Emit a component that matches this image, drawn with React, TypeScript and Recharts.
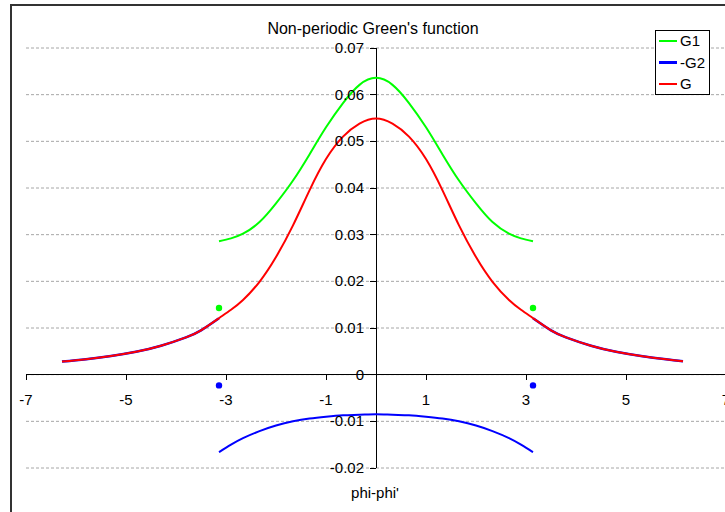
import React from "react";
import {
  ComposedChart,
  Line,
  Scatter,
  XAxis,
  YAxis,
  CartesianGrid,
  ReferenceLine,
} from "recharts";

// ---- data ----
const innerX = [-3.14, -2.9, -2.66, -2.33, -2.0, -1.66, -1.33, -1.0, -0.66, -0.33, 0, 0.33, 0.66, 1.0, 1.33, 1.66, 2.0, 2.33, 2.66, 2.9, 3.14];
const g1Inner = [0.0286, 0.0292, 0.0302, 0.0327, 0.0367, 0.0416, 0.0472, 0.053, 0.0582, 0.0621, 0.0636, 0.0621, 0.0582, 0.053, 0.0472, 0.0416, 0.0367, 0.0327, 0.0302, 0.0292, 0.0286];
const gInner = [0.0121, 0.0139, 0.016, 0.0199, 0.0252, 0.032, 0.0395, 0.0462, 0.051, 0.0538, 0.0549, 0.0538, 0.051, 0.0462, 0.0395, 0.032, 0.0252, 0.0199, 0.016, 0.0139, 0.0121];
const negG2Inner = [-0.0166, -0.015, -0.0136, -0.0121, -0.0109, -0.01, -0.0094, -0.009, -0.0087, -0.0086, -0.0085, -0.0086, -0.0087, -0.009, -0.0094, -0.01, -0.0109, -0.0121, -0.0136, -0.015, -0.0166];

const outerLeftX = [-6.28, -5.8, -5.3, -4.8, -4.3, -3.8, -3.5, -3.14];
const outerLeftY = [0.0028, 0.0033, 0.004, 0.0049, 0.0062, 0.008, 0.0095, 0.0121];
const outerRightX = [3.14, 3.5, 3.8, 4.3, 4.8, 5.3, 5.8, 6.14];
const outerRightY = [0.0121, 0.0095, 0.008, 0.0062, 0.0049, 0.004, 0.0033, 0.0029];

const jumpX = [-3.14, 3.14];
const g1Jump = [0.0143, 0.0143];
const negG2Jump = [-0.0023, -0.0023];

const xTicks = [-7, -5, -3, -1, 1, 3, 5, 7];
const yTicks = [-0.02, -0.01, 0, 0.01, 0.02, 0.03, 0.04, 0.05, 0.06, 0.07];
const seriesNames = ["G1", "-G2", "G"];
const seriesColors = ["#00ff00", "#0000ff", "#ff0000"];
const title = "Non-periodic Green's function";
const xLabel = "phi-phi'";

const zip = (xs: number[], ys: number[]) => xs.map((x, i) => ({ x, y: ys[i] }));

const g1Data = zip(innerX, g1Inner);
const negG2InnerData = zip(innerX, negG2Inner);
const negG2LeftData = zip(outerLeftX, outerLeftY);
const negG2RightData = zip(outerRightX, outerRightY);
const gData = [
  ...zip(outerLeftX.slice(0, -1), outerLeftY.slice(0, -1)),
  ...zip(innerX, gInner),
  ...zip(outerRightX.slice(1), outerRightY.slice(1)),
];
const g1JumpData = zip(jumpX, g1Jump);
const negG2JumpData = zip(jumpX, negG2Jump);

// ---- layout ----
const FONT = "'Liberation Sans', Arial, sans-serif";
const CHART_W = 760;
const CHART_H = 512;
const PLOT = { left: 26, top: 48, right: 726, bottom: 468 };
const AXIS_W = 1;
const X_MIN = -7, X_MAX = 7, Y_MIN = -0.02, Y_MAX = 0.07;
const ZERO_X = PLOT.left + ((PLOT.right - PLOT.left) * (0 - X_MIN)) / (X_MAX - X_MIN);
const ZERO_Y = PLOT.top + ((PLOT.bottom - PLOT.top) * (Y_MAX - 0)) / (Y_MAX - Y_MIN);

const fmtY = (v: number) => (Math.abs(v) < 1e-9 ? "0" : v.toFixed(2));

const XTick = (props: any) => {
  const { x, payload } = props;
  return (
    <g>
      <line x1={x} x2={x} y1={ZERO_Y} y2={ZERO_Y + 5} stroke="#000" strokeWidth={1} shapeRendering="crispEdges" />
      <text x={x} y={ZERO_Y + 30} textAnchor="middle" fontSize={15} fontFamily={FONT} fill="#000">
        {payload.value}
      </text>
    </g>
  );
};

const YTick = (props: any) => {
  const { y, payload } = props;
  return (
    <g>
      <line x1={ZERO_X - 6} x2={ZERO_X} y1={y} y2={y} stroke="#000" strokeWidth={1} shapeRendering="crispEdges" />
      <text x={ZERO_X - 12} y={y + 5} textAnchor="end" fontSize={15} fontFamily={FONT} fill="#000">
        {fmtY(payload.value)}
      </text>
    </g>
  );
};

const dotShape = (color: string) => (props: any) => (
  <circle cx={props.cx} cy={props.cy} r={3.2} fill={color} stroke="none" />
);

export default function App() {
  return (
    <div
      style={{
        position: "fixed",
        left: 0,
        top: 0,
        width: 725,
        height: 512,
        overflow: "hidden",
        background: "#fff",
        fontFamily: FONT,
      }}
    >
      <div
        style={{
          position: "absolute",
          left: 10,
          top: 4,
          width: 800,
          height: 600,
          border: "2px solid #333",
          boxSizing: "border-box",
        }}
      />
      <div style={{ position: "absolute", left: 0, top: 0 }}>
        <ComposedChart
          width={CHART_W}
          height={CHART_H}
          margin={{
            top: PLOT.top,
            left: PLOT.left - AXIS_W,
            right: CHART_W - PLOT.right,
            bottom: CHART_H - PLOT.bottom - AXIS_W,
          }}
        >
          <CartesianGrid
            horizontal={true}
            vertical={false}
            stroke="#a6a6a6"
            strokeDasharray="3 2"
          />
          <XAxis
            dataKey="x"
            type="number"
            domain={[X_MIN, X_MAX]}
            ticks={xTicks}
            interval={0}
            allowDataOverflow
            height={AXIS_W}
            axisLine={false}
            tickLine={false}
            tick={XTick}
          />
          <YAxis
            type="number"
            domain={[Y_MIN, Y_MAX]}
            ticks={yTicks}
            interval={0}
            allowDataOverflow
            width={AXIS_W}
            axisLine={false}
            tickLine={false}
            tick={YTick}
          />
          <ReferenceLine y={0} stroke="#000" strokeWidth={1} shapeRendering="crispEdges" />
          <ReferenceLine x={0} stroke="#000" strokeWidth={1} shapeRendering="crispEdges" />
          <Line data={g1Data} dataKey="y" type="natural" stroke={seriesColors[0]} strokeWidth={2} dot={false} isAnimationActive={false} />
          <Line data={negG2LeftData} dataKey="y" type="natural" stroke={seriesColors[1]} strokeWidth={2.5} dot={false} isAnimationActive={false} />
          <Line data={negG2InnerData} dataKey="y" type="natural" stroke={seriesColors[1]} strokeWidth={2} dot={false} isAnimationActive={false} />
          <Line data={negG2RightData} dataKey="y" type="natural" stroke={seriesColors[1]} strokeWidth={2.5} dot={false} isAnimationActive={false} />
          <Line data={gData} dataKey="y" type="natural" stroke={seriesColors[2]} strokeWidth={2} dot={false} isAnimationActive={false} />
          <Scatter data={g1JumpData} dataKey="y" shape={dotShape(seriesColors[0])} isAnimationActive={false} />
          <Scatter data={negG2JumpData} dataKey="y" shape={dotShape(seriesColors[1])} isAnimationActive={false} />
        </ComposedChart>
      </div>
      <div
        style={{
          position: "absolute",
          left: 0,
          width: 746,
          top: 20,
          textAlign: "center",
          fontSize: 16,
          lineHeight: "18px",
          color: "#000",
        }}
      >
        {title}
      </div>
      <div
        style={{
          position: "absolute",
          left: 0,
          width: 750,
          top: 484,
          textAlign: "center",
          fontSize: 15,
          lineHeight: "18px",
          color: "#000",
        }}
      >
        {xLabel}
      </div>
      <div
        style={{
          position: "absolute",
          left: 655,
          top: 30,
          width: 55,
          height: 65,
          border: "1px solid #000",
          boxSizing: "border-box",
          background: "#fff",
        }}
      >
        {seriesNames.map((name, i) => (
          <div
            key={name}
            style={{
              position: "absolute",
              left: 3,
              top: 1 + i * 21.7,
              height: 18,
              lineHeight: "18px",
              fontSize: 15,
              color: "#000",
              whiteSpace: "nowrap",
              display: "flex",
              alignItems: "center",
            }}
          >
            <span
              style={{
                display: "inline-block",
                width: 18,
                height: i === 1 ? 3 : 2,
                background: seriesColors[i],
                marginRight: 3,
              }}
            />
            <span>{name}</span>
          </div>
        ))}
      </div>
    </div>
  );
}
